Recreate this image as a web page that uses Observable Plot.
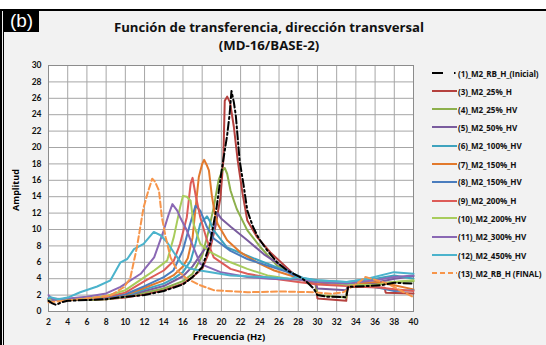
<!DOCTYPE html>
<html><head><meta charset="utf-8">
<script src="https://cdn.jsdelivr.net/npm/d3@7"></script>
<script src="https://cdn.jsdelivr.net/npm/@observablehq/plot@0.6"></script>
<style>
body{margin:0;background:#fff;}
#wrap{position:relative;width:546px;height:345px;background:#fff;overflow:hidden;font-family:"Open Sans",Lato,sans-serif;}
#panel{position:absolute;left:0;top:9px;width:546px;height:336px;background:#f2f2f2;border-top:2px solid #000;box-sizing:border-box;}
#lb1{position:absolute;left:0;top:9px;width:2px;height:336px;background:#000;}
#lb2{position:absolute;left:3px;top:9px;width:1px;height:336px;background:#000;}
#tag{position:absolute;left:4px;top:10px;width:35px;height:22px;background:#000;color:#fff;font-family:"Liberation Sans",sans-serif;font-size:19px;line-height:22px;text-align:center;}
.title{position:absolute;left:0;width:538px;text-align:center;font-weight:bold;font-size:13.2px;color:#111;}
#chart{position:absolute;left:0;top:0;}
#ylab{position:absolute;left:15px;top:190px;transform:translate(-50%,-50%) rotate(-90deg);font-weight:bold;font-size:9px;white-space:nowrap;}
#xlab{position:absolute;left:229px;top:331px;transform:translateX(-50%);font-weight:bold;font-size:9.5px;white-space:nowrap;line-height:12px;}
.leg{position:absolute;left:432px;height:10px;display:flex;align-items:center;font-weight:bold;font-size:8.1px;letter-spacing:-0.1px;white-space:nowrap;color:#111;}
.leg svg{margin-right:1px;}
</style></head><body>
<div id="wrap">
<div id="panel"></div><div id="lb1"></div><div id="lb2"></div>
<div id="tag">(b)</div>
<div class="title" style="top:18px">Función de transferencia, dirección transversal</div>
<div class="title" style="top:36px">(MD-16/BASE-2)</div>
<div id="chart"></div>
<div id="ylab">Amplitud</div>
<div id="xlab">Frecuencia (Hz)</div>
</div>
<script>
// ---- data ----
const seriesNames = ["(1)_M2_RB_H_(Inicial)","(3)_M2_25%_H","(4)_M2_25%_HV","(5)_M2_50%_HV","(6)_M2_100%_HV","(7)_M2_150%_H","(8)_M2_150%_HV","(9)_M2_200%_H","(10)_M2_200%_HV","(11)_M2_300%_HV","(12)_M2_450%_HV","(13)_M2_RB_H (FINAL)"];
const seriesColors = ["#000000","#B5413E","#8DB04C","#7A5C9E","#3FA3BE","#E2792C","#4A7DBE","#DD5C58","#A8CC5C","#8A68B4","#4BB3CC","#F7954A"];
const xTicks = [2,4,6,8,10,12,14,16,18,20,22,24,26,28,30,32,34,36,38,40];
const yTicks = [0,2,4,6,8,10,12,14,16,18,20,22,24,26,28,30];

const f1 = [2,2.4,2.8,3.3,4,6,8,10,12,14,16,17,18,18.8,19.5,20,20.6,20.85,21.05,21.3,21.5,21.9,22.3,22.7,23.3,23.9,24.8,25.8,26.85,28.2,28.9,29.6,30,31,33,33.2,35,36.6,38,40];
const a1 = [1.3,1.0,0.8,1.1,1.3,1.4,1.5,1.8,2.0,2.5,3.3,4.2,5.4,8.2,12.7,17,21.5,24,26.9,25.5,23.9,18.4,15.5,12.3,10.3,8.9,7.4,6.0,5.0,4.2,3.6,2.8,2.0,1.8,1.75,3.0,3.1,3.2,3.5,3.4];
const f3 = [2,4,6,8,10,12,14,16,17,18,18.8,19.4,19.9,20.2,20.35,20.6,20.9,21.3,21.7,22.2,22.7,23.7,25.1,26.2,27.2,28.2,29.8,30,33,33.1,35,37,37.1,40];
const a3 = [1.5,1.4,1.4,1.5,1.7,2.1,2.6,3.4,4.2,5.2,7.5,10.5,13.9,18.4,25.7,26.2,25.5,22.5,18.4,14.4,11.1,9.1,7.2,6.0,4.9,3.9,3.4,1.6,1.3,3.0,3.0,2.9,2.3,2.2];
const f4 = [2,4,6,8,10,12,14,16,17,18,18.6,19.2,19.7,20.1,20.35,20.6,20.95,21.3,21.6,22.7,24.1,25.8,27.2,28.2,29.8,30,33,33.1,36,38,40];
const a4 = [1.5,1.4,1.4,1.5,1.8,2.3,2.8,3.7,4.6,6.8,9.5,12.7,16,17.2,17.5,16.8,14.75,13.5,12.5,9.9,7.8,5.6,4.8,4.0,3.6,2.0,1.7,3.3,3.4,3.6,3.7];
const f5 = [2,4,6,8,10,12,14,16,17,18,18.9,19.3,19.6,20,21,22.7,24.4,26.2,27.5,28.5,29.8,30,33,33.2,36,38,40];
const a5 = [1.6,1.5,1.5,1.6,1.9,2.5,3.1,4.3,5.5,7.2,8.5,10.5,12.0,11.3,10.3,8.7,7.0,5.6,4.6,3.9,3.5,2.8,2.6,3.2,3.5,4.0,4.3];
const f6 = [2,4,6,8,10,12,14,15,16,16.8,17.3,17.8,18.5,18.8,19.2,20.6,22.7,24.4,26.2,27.5,28.5,30,33,36,38,40];
const a6 = [1.5,1.5,1.5,1.6,1.9,2.7,3.4,4.0,4.8,6.2,8.25,10.7,11.6,11.0,9.9,7.8,6.8,6.0,5.2,4.6,4.1,3.8,3.6,4.0,4.4,4.0];
const f7 = [2,4,6,8,10,12,14,15,16,16.5,17.0,17.3,17.65,18.0,18.2,18.5,18.7,19.0,19.3,19.6,20.6,22,23.7,25.5,27.2,28.2,30,33,36,38,40];
const a7 = [1.5,1.5,1.5,1.6,2.0,2.9,3.8,4.4,5.5,6.5,9.0,12.5,16.4,18.0,18.5,17.8,17.2,14.2,12.0,10.7,8.7,7.2,6.0,5.0,4.4,3.9,3.5,3.3,3.6,3.2,2.7];
const f8 = [2,4,6,8,10,12,14,15,16,16.7,17.3,17.8,18.5,19.2,20.95,22.7,24.8,26.9,28.2,30,33,36,38,40];
const a8 = [1.5,1.5,1.5,1.7,2.1,3.1,4.2,5.0,7.5,10.5,12.9,12.3,10.3,8.9,7.4,6.4,5.6,4.8,4.0,3.6,3.4,3.0,2.5,2.6];
const f9 = [2,4,6,8,10,12,14,15.05,15.7,16.4,16.8,17.0,17.3,17.8,18.5,19.2,20.95,22.7,25.5,28,30,33,36,38,40];
const a9 = [1.5,1.5,1.6,1.8,2.3,3.7,5.0,6.2,8.25,11.5,15.6,16.3,14.3,11.5,8.7,6.6,5.2,4.6,4.0,3.6,3.3,3.1,3.0,2.7,2.5];
const f10 = [2,4,6,8,10,12,13,14.35,15.05,15.7,16.0,16.4,16.8,17.1,17.8,18.9,20.95,22.7,24.8,27,29,31,33,36,38,40];
const a10 = [1.5,1.5,1.6,1.9,2.6,4.2,5.0,6.2,9.1,12.7,14.1,14.0,13.5,10.7,8.25,7.2,6.0,5.2,4.4,4.0,3.8,3.6,3.3,3.2,3.6,3.8];
const f11 = [2,2.5,4,6,8,9.5,11.6,13,14,14.5,14.9,15.4,15.7,16.4,17.1,17.8,19.9,22.7,25,28,30,33,36,38,40];
const a11 = [2.0,1.4,1.6,1.8,2.2,3.0,4.6,6.6,9.9,11.8,13.1,12.3,11.5,9.9,7.8,5.8,4.8,4.2,4.0,3.9,3.6,3.4,3.8,4.2,4.4];
const f12 = [2,2.2,3,4,5.3,7.07,8.45,9.5,10.2,10.9,11.9,12.96,13.66,14.35,15.05,15.9,16.8,17.8,20.95,24.4,27.2,27.9,29.6,33.1,35.2,37.95,40];
const a12 = [1.6,1.75,1.5,1.7,2.35,3.05,3.8,6.0,6.4,7.6,8.25,9.7,9.3,8.45,7.2,5.8,5.2,5.0,4.4,4.2,4.0,4.2,3.8,3.6,4.0,4.8,4.6];
const f13 = [2,2.2,5.7,8.45,9.84,10.5,11.2,11.9,12.4,12.8,13.1,13.5,13.8,14.2,14.7,15.4,16.4,17.8,19.2,22.7,26.2,29.6,31.4,32.7,34.1,35,35.9,37.3,38.65,40];
const a13 = [1.1,1.13,1.55,1.95,2.96,4.0,7.8,12.7,14.75,16.2,15.8,14.75,11.5,9.06,6.6,5.0,4.0,3.2,2.6,2.35,2.44,2.35,2.16,2.35,3.37,4.2,3.9,3.4,2.56,1.75];

const freqs = [f1,f3,f4,f5,f6,f7,f8,f9,f10,f11,f12,f13];
const amps = [a1,a3,a4,a5,a6,a7,a8,a9,a10,a11,a12,a13];
const dashes = ["8,3,2,3",null,null,null,null,null,null,null,null,null,null,"6,3"];

const tables = freqs.map((fx,i)=>fx.map((x,j)=>({x, y:amps[i][j], s:seriesNames[i]})));
const order = [1,2,3,4,5,6,7,8,9,10,11,0];
const lineMarks = order.map(i=>Plot.line(tables[i],{x:"x",y:"y",stroke:seriesColors[i],strokeWidth:2,strokeDasharray:dashes[i]||undefined,strokeLinejoin:"round"}));

const chart = Plot.plot({
  width:546, height:345,
  marginLeft:48, marginRight:133, marginTop:65, marginBottom:34,
  style:{background:"transparent", fontFamily:"Lato, 'Open Sans', sans-serif", fontWeight:"bold", fontSize:"8.5px", color:"#111"},
  x:{domain:[2,40], ticks:xTicks, tickSize:0, tickPadding:7, label:null},
  y:{domain:[0,30], ticks:yTicks, tickSize:0, tickPadding:7, label:null},
  marks:[
    Plot.frame({fill:"white", stroke:null}),
    Plot.gridX(xTicks,{stroke:"#a6a6a6", strokeOpacity:1}),
    Plot.gridY(yTicks,{stroke:"#a6a6a6", strokeOpacity:1}),
    Plot.frame({stroke:"#8c8c8c"}),
    ...lineMarks
  ]
});
document.getElementById("chart").appendChild(chart);

// legend
const wrap = document.getElementById("wrap");
const legY = [73,91,109,127.3,145.7,164,181.7,200.7,218.3,236.7,255,273.3];
seriesNames.forEach((n,i)=>{
  const d = document.createElement("div");
  d.className="leg";
  d.style.top=(legY[i]-5)+"px";
  const dash = i===0 ? "11,11,1.5,3" : (i===11 ? "5,3" : "none");
  d.innerHTML = `<svg width="25" height="4"><line x1="0" y1="2" x2="25" y2="2" stroke="${seriesColors[i]}" stroke-width="2" stroke-dasharray="${dash}"/></svg><span>${n}</span>`;
  wrap.appendChild(d);
});
</script>
</body></html>
